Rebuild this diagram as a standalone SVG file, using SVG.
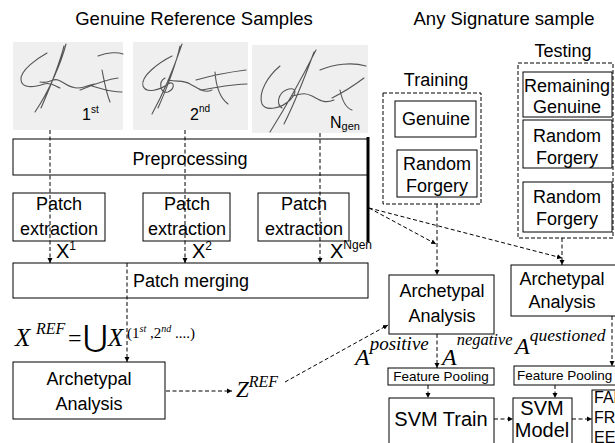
<svg xmlns="http://www.w3.org/2000/svg" width="615" height="443" viewBox="0 0 615 443">
<defs>
<style>
.box{fill:#fff;stroke:#000;stroke-width:1}
.dbox{fill:none;stroke:#000;stroke-width:1;stroke-dasharray:4,2}
.t{font-family:"Liberation Sans",Arial,sans-serif;font-size:18px;fill:#000;text-anchor:middle}
.tl{font-family:"Liberation Sans",Arial,sans-serif;fill:#000}
.m{font-family:"Liberation Serif","Times New Roman",serif;font-style:italic;fill:#000}
.c{fill:none;stroke:#000;stroke-width:1;stroke-dasharray:4,2.5}
.sig{fill:#efefef}
.ink{fill:none;stroke:#555;stroke-width:1.1;stroke-linecap:round;stroke-linejoin:round}
</style>
<marker id="ah" markerUnits="userSpaceOnUse" markerWidth="6" markerHeight="6" refX="5" refY="3" orient="auto">
<path d="M0,0.5 L5,3 L0,5.5 Z" fill="#000"/>
</marker>
</defs>
<rect width="615" height="443" fill="#fff"/>

<text class="t" x="194" y="25" style="font-size:18.5px">Genuine Reference Samples</text>
<text class="t" x="504" y="25" style="font-size:18.5px">Any Signature sample</text>

<g id="sample1">
<rect class="sig" x="13" y="42" width="110" height="88"/>
<path class="ink" d="M47,53 C38,58 20,70 21,80 C22,88 32,88 44,84 C52,82 55,86 60,88 M66,44 C62,60 50,90 35,112 M64,46 C60,62 48,92 41,108 M40,82 C50,84 52,78 58,80 C66,83 68,88 78,88 C85,88 90,84 95,84 M80,90 C90,86 104,80 118,78 M102,70 C104,80 106,92 110,102 M92,86 C100,88 110,92 122,92 M98,56 C108,52 118,52 123,54"/>
<text class="tl" x="82" y="120" style="font-size:16px">1<tspan dy="-7" style="font-size:10px">st</tspan></text>
</g>
<g id="sample2">
<rect class="sig" x="133" y="42" width="115" height="88"/>
<path class="ink" d="M172,56 C160,62 140,76 143,86 C146,94 160,90 168,84 C174,80 176,88 168,92 C160,94 158,82 165,78 M182,44 C176,62 164,92 152,114 M180,46 C176,64 166,90 158,108 M168,80 C178,82 184,80 190,84 C198,88 204,94 212,90 M196,80 C210,76 230,72 246,70 M215,72 C216,86 220,98 228,104 M200,90 C215,88 232,84 247,84"/>
<text class="tl" x="190" y="120" style="font-size:16px">2<tspan dy="-8" style="font-size:10px">nd</tspan></text>
</g>
<g id="sample3">
<rect class="sig" x="252" y="45" width="116" height="88"/>
<path class="ink" d="M280,66 C268,76 258,92 262,104 C266,112 282,108 290,100 C298,92 296,86 286,90 C278,94 276,104 282,108 M316,50 C306,70 290,100 270,132 M314,52 C306,74 296,100 284,124 M292,96 C302,94 304,92 312,96 C320,100 324,104 334,100 M320,70 C334,64 352,62 366,66 M340,90 C342,100 346,108 352,110 M332,98 C344,92 356,84 364,78"/>
<text class="tl" x="330" y="128" style="font-size:16px">N<tspan dy="2" style="font-size:11px">gen</tspan></text>
</g>

<g id="preprocessing">
<rect class="box" x="13" y="139" width="355" height="36"/>
<text class="t" x="190" y="165">Preprocessing</text>
</g>
<line x1="368" y1="137" x2="368" y2="242" stroke="#000" stroke-width="3"/>

<g id="patch1">
<rect class="box" x="13" y="193" width="92" height="48"/>
<text class="t" x="59" y="210">Patch</text>
<text class="t" x="59" y="235">extraction</text>
</g>
<g id="patch2">
<rect class="box" x="143" y="193" width="87" height="48"/>
<text class="t" x="187" y="210">Patch</text>
<text class="t" x="187" y="235">extraction</text>
</g>
<g id="patch3">
<rect class="box" x="258" y="193" width="91" height="48"/>
<text class="t" x="304" y="210">Patch</text>
<text class="t" x="304" y="235">extraction</text>
</g>

<text class="tl" x="56" y="258" style="font-size:20px">X<tspan dy="-8" style="font-size:12px">1</tspan></text>
<text class="tl" x="192" y="258" style="font-size:20px">X<tspan dy="-8" style="font-size:12px">2</tspan></text>
<text class="tl" x="330" y="258" style="font-size:20px">X<tspan dy="-9" style="font-size:12px">Ngen</tspan></text>

<g id="merging">
<rect class="box" x="13" y="263" width="355" height="35"/>
<text class="t" x="191" y="287">Patch merging</text>
</g>

<g id="formula">
<text class="m" x="15" y="346" style="font-size:25px">X</text>
<text class="m" x="36" y="334" style="font-size:16px">REF</text>
<text class="m" x="68" y="346" style="font-size:24px;font-style:normal">=</text>
<text x="83" y="347" style="font-family:'DejaVu Serif',serif;font-size:30px">⋃</text>
<text class="m" x="108" y="346" style="font-size:25px">X</text>
<text class="m" x="127" y="338" style="font-size:15px;font-style:normal">(1<tspan dy="-6" style="font-size:10px;font-style:italic">st</tspan><tspan dy="6"> ,2</tspan><tspan dy="-6" style="font-size:10px;font-style:italic">nd</tspan><tspan dy="6"> ....)</tspan></text>
</g>

<g id="archetypal-ref">
<rect class="box" x="13" y="362" width="152" height="57"/>
<text class="t" x="89" y="385">Archetypal</text>
<text class="t" x="89" y="410">Analysis</text>
</g>
<text class="m" x="236" y="397" style="font-size:23px">Z<tspan dy="-10" style="font-size:16px">REF</tspan></text>

<g id="training">
<rect class="dbox" x="383" y="93" width="98" height="111"/>
<text class="t" x="436" y="86">Training</text>
<g id="train-genuine">
<rect class="box" x="395" y="101" width="81" height="36"/>
<text class="t" x="436" y="125">Genuine</text>
</g>
<g id="train-random">
<rect class="box" x="397" y="150" width="80" height="47"/>
<text class="t" x="437" y="170">Random</text>
<text class="t" x="437" y="192">Forgery</text>
</g>
</g>

<g id="testing">
<rect class="dbox" x="518" y="63" width="95" height="175"/>
<text class="t" x="563" y="57">Testing</text>
<g id="test-genuine">
<rect class="box" x="523" y="72" width="89" height="45"/>
<text class="t" x="567" y="92">Remaining</text>
<text class="t" x="567" y="113">Genuine</text>
</g>
<g id="test-random1">
<rect class="box" x="523" y="120" width="89" height="48"/>
<text class="t" x="567" y="142">Random</text>
<text class="t" x="567" y="164">Forgery</text>
</g>
<g id="test-random2">
<rect class="box" x="523" y="182" width="89" height="50"/>
<text class="t" x="567" y="203">Random</text>
<text class="t" x="567" y="225">Forgery</text>
</g>
</g>

<g id="archetypal-train">
<rect class="box" x="389" y="275" width="105" height="59"/>
<text class="t" x="442" y="297">Archetypal</text>
<text class="t" x="442" y="322">Analysis</text>
</g>
<g id="archetypal-test">
<rect class="box" x="511" y="265" width="110" height="51"/>
<text class="t" x="562" y="285">Archetypal</text>
<text class="t" x="562" y="308">Analysis</text>
</g>

<text class="m" x="355" y="365" style="font-size:24px">A<tspan dy="-15" style="font-size:19px">positive</tspan></text>
<text class="m" x="442" y="365" style="font-size:24px">A<tspan dy="-20" style="font-size:16.5px">negative</tspan></text>
<text class="m" x="515" y="354" style="font-size:24px">A<tspan dy="-13" style="font-size:17.5px">questioned</tspan></text>

<g id="pool-train">
<rect class="box" x="388" y="368" width="106" height="17"/>
<text class="t" x="441" y="381" style="font-size:13.5px">Feature Pooling</text>
</g>
<g id="pool-test">
<rect class="box" x="514" y="366" width="110" height="19"/>
<text class="tl" x="517" y="380" style="font-size:13.5px">Feature Pooling</text>
</g>

<g id="svm-train">
<rect class="box" x="389" y="398" width="105" height="60"/>
<text class="t" x="441" y="426" style="font-size:20px">SVM Train</text>
</g>
<g id="svm-model">
<rect class="box" x="513" y="398" width="59" height="60"/>
<text class="t" x="542" y="415" style="font-size:20px">SVM</text>
<text class="t" x="542" y="437" style="font-size:20px">Model</text>
</g>
<g id="metrics">
<rect class="box" x="592" y="390" width="40" height="60"/>
<text class="tl" x="594" y="403" style="font-size:16px">FAR</text>
<text class="tl" x="594" y="423" style="font-size:16px">FRR</text>
<text class="tl" x="594" y="443" style="font-size:16px">EER</text>
</g>

<g id="connectors">
<path class="c" d="M50,130 V263" marker-end="url(#ah)"/>
<path class="c" d="M185,130 V263" marker-end="url(#ah)"/>
<path class="c" d="M320,133 V263" marker-end="url(#ah)"/>
<path class="c" d="M127,263 V362" marker-end="url(#ah)"/>
<path class="c" d="M166,391 H232" marker-end="url(#ah)"/>
<path class="c" d="M285,382 L388,325" marker-end="url(#ah)"/>
<path class="c" d="M369,208 L436,244" marker-end="url(#ah)"/>
<path class="c" d="M369,208 L562,258" marker-end="url(#ah)"/>
<path class="c" d="M437,204 V275" marker-end="url(#ah)"/>
<path class="c" d="M562,238 V265" marker-end="url(#ah)"/>
<path class="c" d="M437,334 V368" marker-end="url(#ah)"/>
<path class="c" d="M612,316 V366" marker-end="url(#ah)"/>
<path class="c" d="M428,385 V398" marker-end="url(#ah)"/>
<path class="c" d="M494,419 H513" marker-end="url(#ah)"/>
<path class="c" d="M555,385 V398" marker-end="url(#ah)"/>
<path class="c" d="M572,419 H592" marker-end="url(#ah)"/>
</g>
</svg>
